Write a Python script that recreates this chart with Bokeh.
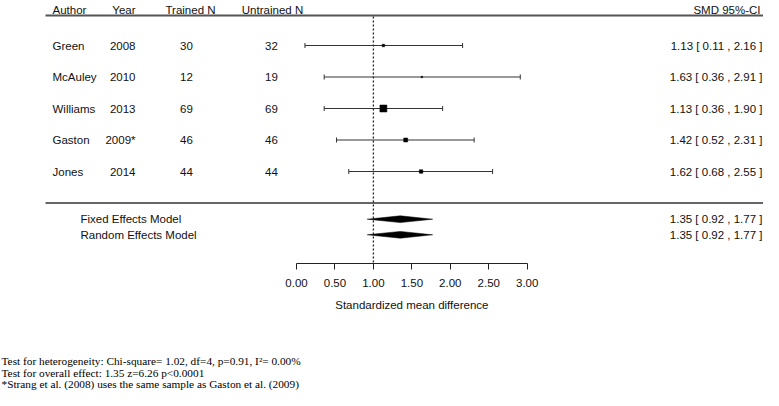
from bokeh.plotting import figure
from bokeh.models import (Range1d, LinearAxis, FixedTicker, NumeralTickFormatter,
                          ColumnDataSource)
from bokeh.core.properties import value
from bokeh.embed import file_html
from bokeh.resources import INLINE

# ---------------- data ----------------
authors = ["Green", "McAuley", "Williams", "Gaston", "Jones"]
years = ["2008", "2010", "2013", "2009*", "2014"]
trained_n = [30, 12, 69, 46, 44]
untrained_n = [32, 19, 69, 46, 44]
smd = [1.13, 1.63, 1.13, 1.42, 1.62]
ci_low = [0.11, 0.36, 0.36, 0.52, 0.68]
ci_high = [2.16, 2.91, 1.90, 2.31, 2.55]

model_names = ["Fixed Effects Model", "Random Effects Model"]
model_smd = [1.35, 1.35]
model_low = [0.92, 0.92]
model_high = [1.77, 1.77]

axis_ticks = [0.0, 0.5, 1.0, 1.5, 2.0, 2.5, 3.0]
null_value = 1.0
header_labels = ["Author", "Year", "Trained N", "Untrained N", "SMD 95%-CI"]
axis_title = "Standardized mean difference"
footnotes = [
    "Test for heterogeneity: Chi-square= 1.02, df=4, p=0.91, I\u00b2= 0.00%",
    "Test for overall effect: 1.35 z=6.26 p<0.0001",
    "*Strang et al. (2008) uses the same sample as Gaston et al. (2009)",
]

# ---------------- styles / layout ----------------
box_sizes = [2.5, 1.5, 7, 4, 3.5]
W, H = 763, 390
PX0 = 296.0          # px of SMD = 0
PX_PER_UNIT = 76.9
ROW1_PX = 45.0       # px of first study row
ROW_PX = 31.5
SANS = value("Liberation Sans")
SERIF = value("Liberation Serif")
FS = "11.5px"
INK = "#111111"


def xp(px):
    return (px - PX0) / PX_PER_UNIT


def yp(px):
    return 1 + (px - ROW1_PX) / ROW_PX


x_start, x_end = xp(0), xp(W)
y_top, y_bottom = yp(0), yp(H)

p = figure(width=W, height=H, output_backend="svg", toolbar_location=None,
           x_range=Range1d(x_start, x_end), y_range=Range1d(y_bottom, y_top),
           x_axis_location=None, y_axis_location=None,
           min_border_left=0, min_border_right=0, min_border_top=0,
           min_border_bottom=0, outline_line_color=None,
           background_fill_color="white", border_fill_color="white")
p.grid.grid_line_color = None

rows = list(range(1, len(authors) + 1))
src = ColumnDataSource(dict(
    y=rows, author=authors, year=years,
    tn=[str(v) for v in trained_n], un=[str(v) for v in untrained_n],
    est=smd, lo=ci_low, hi=ci_high, size=box_sizes,
    lbl=["%.2f [ %.2f , %.2f ]" % (a, b, c) for a, b, c in zip(smd, ci_low, ci_high)],
    cap_lo=[r - 0.08 for r in rows], cap_hi=[r + 0.08 for r in rows],
))

# header
hy = yp(9)
p.text(x=[xp(52)], y=[hy], text=[header_labels[0]], text_font=SANS, text_font_size=FS,
       text_align="left", text_baseline="alphabetic", text_color=INK)
p.text(x=[xp(135)], y=[hy], text=[header_labels[1]], text_font=SANS, text_font_size=FS,
       text_align="right", text_baseline="alphabetic", text_color=INK)
p.text(x=[xp(190), xp(272)], y=[hy, hy], text=header_labels[2:4], text_font=SANS,
       text_font_size=FS, text_align="center", text_baseline="alphabetic", text_color=INK)
p.text(x=[xp(760)], y=[hy], text=[header_labels[4]], text_font=SANS, text_font_size=FS,
       text_align="right", text_baseline="alphabetic", text_color=INK)
p.segment(x0=[xp(45)], y0=[yp(15)], x1=[x_end], y1=[yp(15)],
          line_color="#555555", line_width=2)

# null line
axis_y = yp(262.7)
p.segment(x0=[null_value], y0=[yp(16)], x1=[null_value], y1=[axis_y],
          line_color="#222222", line_width=1.3, line_dash="2 2")

# study table
p.text(x=xp(52), y="y", text="author", source=src, text_font=SANS, text_font_size=FS,
       text_align="left", text_baseline="middle", text_color=INK)
p.text(x=xp(135), y="y", text="year", source=src, text_font=SANS, text_font_size=FS,
       text_align="right", text_baseline="middle", text_color=INK)
p.text(x=xp(186), y="y", text="tn", source=src, text_font=SANS, text_font_size=FS,
       text_align="center", text_baseline="middle", text_color=INK)
p.text(x=xp(271), y="y", text="un", source=src, text_font=SANS, text_font_size=FS,
       text_align="center", text_baseline="middle", text_color=INK)
p.text(x=xp(762), y="y", text="lbl", source=src, text_font=SANS, text_font_size=FS,
       text_align="right", text_baseline="middle", text_color=INK)

# CIs and boxes
p.segment(x0="lo", y0="y", x1="hi", y1="y", source=src, line_color="#333333", line_width=1)
p.segment(x0="lo", y0="cap_lo", x1="lo", y1="cap_hi", source=src, line_color="#333333", line_width=1)
p.segment(x0="hi", y0="cap_lo", x1="hi", y1="cap_hi", source=src, line_color="#333333", line_width=1)
p.scatter(x="est", y="y", size="size", marker="square", source=src,
          fill_color="black", line_color="black", line_width=0.5)

# separator
p.segment(x0=[xp(45)], y0=[yp(202.5)], x1=[x_end], y1=[yp(202.5)],
          line_color="#333333", line_width=1.5)

# summary models
model_y = [yp(218.7), yp(234.3)]
half_h = 3.4 / ROW_PX
p.patches(xs=[[lo, m, hi, m] for lo, m, hi in zip(model_low, model_smd, model_high)],
          ys=[[y, y - half_h, y, y + half_h] for y in model_y],
          fill_color="black", line_color="black", line_width=0.5)
p.text(x=[xp(80)] * 2, y=model_y, text=model_names, text_font=SANS, text_font_size=FS,
       text_align="left", text_baseline="middle", text_color=INK)
p.text(x=[xp(762)] * 2, y=model_y,
       text=["%.2f [ %.2f , %.2f ]" % (a, b, c) for a, b, c in zip(model_smd, model_low, model_high)],
       text_font=SANS, text_font_size=FS, text_align="right", text_baseline="middle", text_color=INK)

# axis (drawn at a fixed data location inside the frame)
ax = LinearAxis(ticker=FixedTicker(ticks=axis_ticks), bounds=(axis_ticks[0], axis_ticks[-1]),
                formatter=NumeralTickFormatter(format="0.00"), fixed_location=axis_y)
ax.axis_line_color = "#222222"
ax.axis_line_width = 1
ax.major_tick_line_color = "#222222"
ax.major_tick_out = 6
ax.major_tick_in = 0
ax.minor_tick_line_color = None
ax.major_label_text_font = "Liberation Sans"
ax.major_label_text_font_size = FS
ax.major_label_text_color = INK
ax.major_label_standoff = 10
p.add_layout(ax, "below")
p.text(x=[(axis_ticks[0] + axis_ticks[-1]) / 2], y=[yp(304)], text=[axis_title],
       text_font=SANS, text_font_size=FS, text_align="center", text_baseline="middle",
       text_color=INK)

# footnotes
p.text(x=[xp(1)] * 3, y=[yp(360.5), yp(372), yp(383.5)], text=footnotes,
       text_font=SERIF, text_font_size="11.3px", text_align="left",
       text_baseline="middle", text_color="black")

open("out.html", "w").write(file_html(p, INLINE))
